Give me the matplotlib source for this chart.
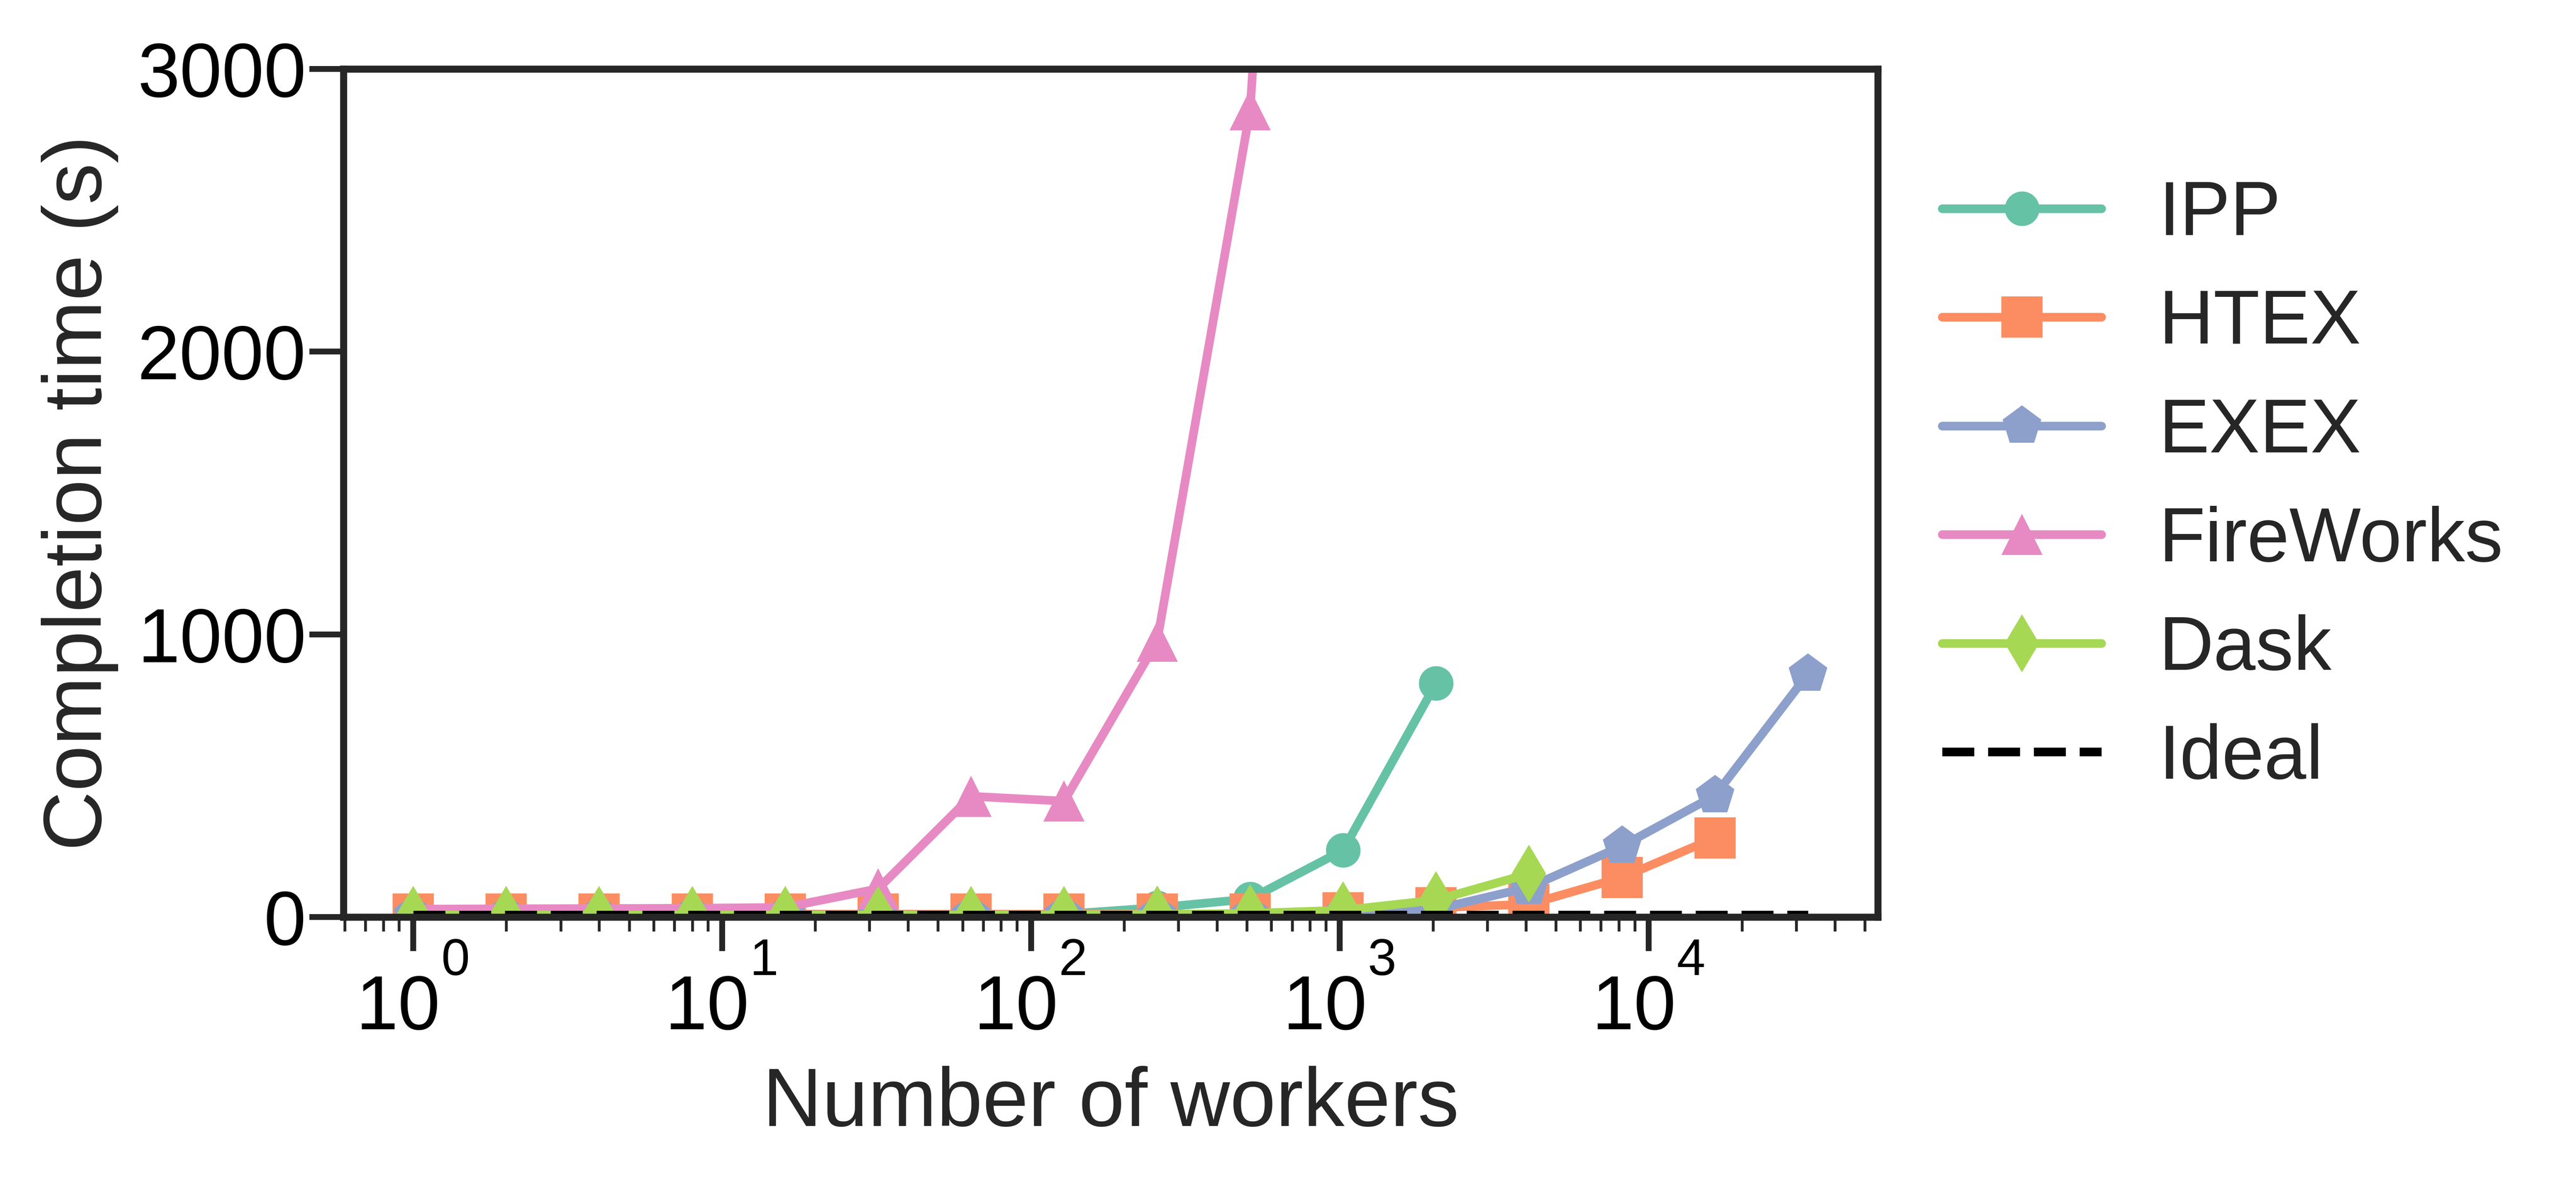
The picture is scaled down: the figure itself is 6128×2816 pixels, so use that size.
import matplotlib
matplotlib.use("Agg")
import matplotlib.pyplot as plt
import numpy as np

plt.rcParams['font.family'] = ['Liberation Sans', 'DejaVu Sans']

# ---- data ----
workers = [1, 2, 4, 8, 16, 32, 64, 128, 256, 512, 1024, 2048, 4096, 8192, 16384, 32768]

ipp_x = workers[:12]
ipp_y = [8, 8, 8, 8, 8, 8, 8, 10, 33, 64, 236, 827]

htex_x = workers[:15]
htex_y = [10, 10, 10, 10, 10, 10, 10, 10, 10, 10, 15, 33, 45, 140, 280]

exex_x = workers[:16]
exex_y = [8, 8, 8, 8, 8, 8, 8, 8, 8, 8, 9, 28, 105, 251, 430, 860]

fw_x = workers[:11]
fw_y = [28, 29, 30, 31, 34, 100, 427, 410, 975, 2855, 7900]

dask_x = workers[:13]
dask_y = [7, 7, 7, 7, 7, 7, 7, 8, 9, 13, 24, 60, 153]

ideal_x = workers
ideal_y = [7] * len(workers)

labels = ["IPP", "HTEX", "EXEX", "FireWorks", "Dask", "Ideal"]
colors = ["#66c2a5", "#fc8d62", "#8da0cb", "#e78ac3", "#a6d854", "#000000"]
decade_exponents = [0, 1, 2, 3, 4]
y_ticks = [0, 1000, 2000, 3000]

W, H = 6128, 2816
DPI = 400
PX = 72 / DPI  # points per pixel
fig = plt.figure(figsize=(W / DPI, H / DPI), dpi=DPI)
ax = fig.add_axes([817 / W, 1 - 2181 / H, (4467 - 817) / W, (2181 - 164) / H])

lw = 3.7
ms = 17.6
common = dict(lw=lw, markeredgewidth=0, solid_capstyle='round')
ax.plot(ipp_x, ipp_y, marker='o', ms=ms * 0.84, color=colors[0], label=labels[0], **common)
ax.plot(htex_x, htex_y, marker='s', ms=ms, color=colors[1], label=labels[1], **common)
ax.plot(exex_x, exex_y, marker='p', ms=ms, color=colors[2], label=labels[2], **common)
ax.plot(fw_x, fw_y, marker='^', ms=ms, color=colors[3], label=labels[3], **common)
ax.plot(dask_x, dask_y, marker='d', ms=ms, color=colors[4], label=labels[4], **common)
ax.plot(ideal_x, ideal_y, ls='--', lw=lw, color=colors[5], label=labels[5])

ax.set_xscale('log')
ax.set_ylim(0, 3000)
ax.set_yticks(y_ticks)

for s in ax.spines.values():
    s.set_linewidth(3.0)
    s.set_color('#262626')

ax.tick_params(axis='both', which='major', length=14.5, width=2.5, color='#262626',
               labelsize=32.5, labelcolor='black')
ax.tick_params(axis='x', which='both', labelbottom=False)
ax.tick_params(axis='y', which='major', pad=1.5)
ax.tick_params(axis='x', which='minor', length=6.2, width=1.2, color='#262626')

# x tick labels: "10" with a raised exponent
for k in decade_exponents:
    ax.annotate("10", xy=(10.0 ** k, 0), xycoords=('data', 'axes fraction'),
                xytext=(-36 * PX, -267 * PX), textcoords='offset points',
                ha='center', va='baseline', fontsize=32.5, color='black',
                annotation_clip=False)
    ax.annotate(str(k), xy=(10.0 ** k, 0), xycoords=('data', 'axes fraction'),
                xytext=(66 * PX, -138 * PX), textcoords='offset points',
                ha='left', va='baseline', fontsize=22, color='black',
                annotation_clip=False)

ax.set_xlabel("Number of workers", fontsize=35.3, color='#262626')
ax.xaxis.label.set_verticalalignment('baseline')
ax.xaxis.set_label_coords(0.5, -(2678 - 2181) / (2181 - 164))
ax.set_ylabel("Completion time (s)", fontsize=35.3, color='#262626', labelpad=8)

leg = ax.legend(loc='center left', bbox_to_anchor=(1.042, 0.507), frameon=False,
                fontsize=32.5, borderaxespad=0, borderpad=0, labelspacing=0.49,
                handlelength=2.1, handletextpad=0.75)
for t in leg.get_texts():
    t.set_color('#262626')

fig.savefig("out.png", dpi=DPI)
